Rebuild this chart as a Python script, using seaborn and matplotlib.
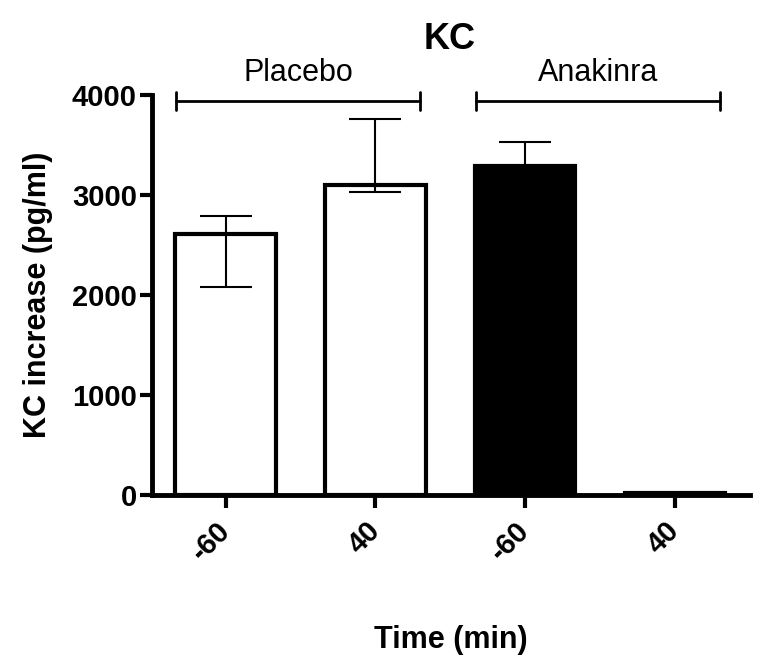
import numpy as np
import pandas as pd
import seaborn as sns
import matplotlib
matplotlib.use('Agg')
import matplotlib.pyplot as plt

# data
conditions = ['Placebo -60', 'Placebo 40', 'Anakinra -60', 'Anakinra 40']
time_labels = ['-60', '40', '-60', '40']
kc_mean = [2610, 3100, 3290, 15]
err_low = [2080, 3030, 3290, 15]
err_high = [2790, 3760, 3530, 15]
groups = ['Placebo', 'Anakinra']
bar_colors = ['white', 'white', 'black', 'black']

sns.set_style('ticks', {'text.color': 'black', 'axes.labelcolor': 'black',
                        'xtick.color': 'black', 'ytick.color': 'black',
                        'axes.edgecolor': 'black'})
plt.rcParams['font.family'] = ['Liberation Sans', 'DejaVu Sans']

df = pd.DataFrame({'condition': conditions, 'kc': kc_mean})

fig = plt.figure(figsize=(7.69, 6.66), dpi=100)
ax = fig.add_axes([0.198, 0.257, 0.777, 0.6])

sns.barplot(data=df, x='condition', y='kc', order=conditions, hue='condition',
            palette=bar_colors, edgecolor='black', linewidth=3, width=0.67,
            legend=False, ax=ax, zorder=2)

# asymmetric error bars on top of the bars
yerr = np.array([np.array(kc_mean) - np.array(err_low),
                 np.array(err_high) - np.array(kc_mean)])
mask = yerr.sum(axis=0) > 0
xs = np.arange(len(conditions))
ax.errorbar(xs[mask], np.array(kc_mean)[mask], yerr=yerr[:, mask], fmt='none',
            ecolor='black', elinewidth=1.5, capsize=19, capthick=1.5, zorder=3)

ax.set_xlim(-0.49, 3.5)
ax.set_ylim(0, 4000)
ax.set_yticks([0, 1000, 2000, 3000, 4000])
ax.set_xticks(xs)
ax.set_xticklabels(time_labels, rotation=45, ha='right', va='center',
                   rotation_mode='anchor', fontweight='bold', fontsize=21)
for lab in ax.get_yticklabels():
    lab.set_fontweight('bold')
    lab.set_fontsize(21)
ax.tick_params(axis='both', width=3, length=9)
ax.tick_params(axis='x', pad=14)
ax.tick_params(axis='y', pad=2)

for s in ['left', 'bottom']:
    ax.spines[s].set_linewidth(3.5)
sns.despine(ax=ax)

ax.set_xlabel('Time (min)', fontsize=22, fontweight='bold', labelpad=42)
ax.set_ylabel('KC increase (pg/ml)', fontsize=22, fontweight='bold', labelpad=14)

# group brackets above the bars
spans = [(-0.33, 1.3), (1.67, 3.3)]
for name, (x0, x1) in zip(groups, spans):
    ax.plot([x0, x1], [3940, 3940], color='black', lw=2, clip_on=False)
    for xe in (x0, x1):
        ax.plot([xe, xe], [3850, 4030], color='black', lw=2, clip_on=False)
    ax.text((x0 + x1) / 2, 4220, name, ha='center', va='center', fontsize=22)

fig.text(0.585, 0.94, 'KC', ha='center', va='center', fontsize=26,
         fontweight='bold')

fig.savefig('out.png', dpi=100, facecolor='white')
